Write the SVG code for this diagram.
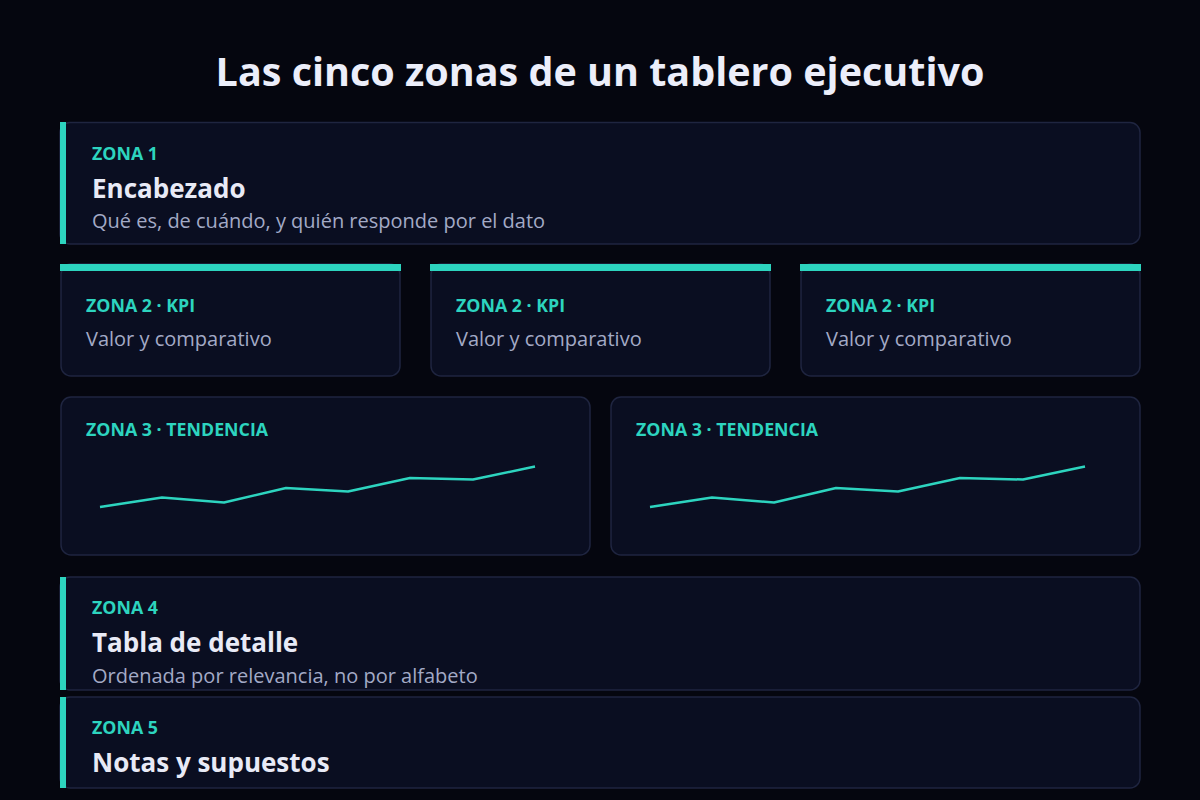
<svg xmlns="http://www.w3.org/2000/svg" width="1200" height="800" viewBox="0 0 1200 800">
<style>
.card{fill:#0a0e21;stroke:#1f2540;stroke-width:1.5}
.bar{fill:#2dd4bf}
.lbl{font-family:"Open Sans","Noto Sans",sans-serif;font-weight:700;font-size:17.8px;fill:#2dd4bf}
.h{font-family:"Open Sans","Noto Sans",sans-serif;font-weight:700;font-size:26px;fill:#e8eaf6}
.sub{font-family:"Open Sans","Noto Sans",sans-serif;font-size:20px;fill:#a3aac6}
.title{font-family:"Open Sans","Noto Sans",sans-serif;font-weight:700;font-size:39.5px;fill:#eceefa}
.spark{fill:none;stroke:#2dd4bf;stroke-width:2.5;stroke-linejoin:round}
</style>
<rect width="1200" height="800" fill="#05060f"/>
<text class="title" x="600" y="86" text-anchor="middle">Las cinco zonas de un tablero ejecutivo</text>

<g id="zona1">
<rect class="card" x="60" y="122.5" width="1080" height="121.5" rx="10"/>
<rect class="bar" x="60" y="122" width="6" height="122"/>
<text class="lbl" x="92" y="160">ZONA 1</text>
<text class="h" x="92" y="198">Encabezado</text>
<text class="sub" x="92" y="228">Qué es, de cuándo, y quién responde por el dato</text>
</g>

<g id="kpi1">
<rect class="card" x="61" y="264" width="339" height="112" rx="10"/>
<rect class="bar" x="60" y="264" width="341" height="7"/>
<text class="lbl" x="86" y="312">ZONA 2 · KPI</text>
<text class="sub" x="86" y="346">Valor y comparativo</text>
</g>
<g id="kpi2">
<rect class="card" x="431" y="264" width="339" height="112" rx="10"/>
<rect class="bar" x="430" y="264" width="341" height="7"/>
<text class="lbl" x="456" y="312">ZONA 2 · KPI</text>
<text class="sub" x="456" y="346">Valor y comparativo</text>
</g>
<g id="kpi3">
<rect class="card" x="801" y="264" width="339" height="112" rx="10"/>
<rect class="bar" x="800" y="264" width="341" height="7"/>
<text class="lbl" x="826" y="312">ZONA 2 · KPI</text>
<text class="sub" x="826" y="346">Valor y comparativo</text>
</g>

<g id="tendencia1">
<rect class="card" x="61" y="397" width="529" height="158" rx="10"/>
<text class="lbl" x="86" y="436">ZONA 3 · TENDENCIA</text>
<polyline class="spark" points="100,507 162,497.5 224,502.5 286,488 348,491.5 410,478 473,479.5 535,466.5"/>
</g>
<g id="tendencia2">
<rect class="card" x="611" y="397" width="529" height="158" rx="10"/>
<text class="lbl" x="636" y="436">ZONA 3 · TENDENCIA</text>
<polyline class="spark" points="650,507 712,497.5 774,502.5 836,488 898,491.5 960,478 1023,479.5 1085,466.5"/>
</g>

<g id="zona4">
<rect class="card" x="60" y="577" width="1080" height="113" rx="10"/>
<rect class="bar" x="60" y="577" width="6" height="113"/>
<text class="lbl" x="92" y="614">ZONA 4</text>
<text class="h" x="92" y="652">Tabla de detalle</text>
<text class="sub" x="92" y="683">Ordenada por relevancia, no por alfabeto</text>
</g>

<g id="zona5">
<rect class="card" x="60" y="697" width="1080" height="91" rx="10"/>
<rect class="bar" x="60" y="697" width="6" height="91"/>
<text class="lbl" x="92" y="734">ZONA 5</text>
<text class="h" x="92" y="772">Notas y supuestos</text>
</g>
</svg>
